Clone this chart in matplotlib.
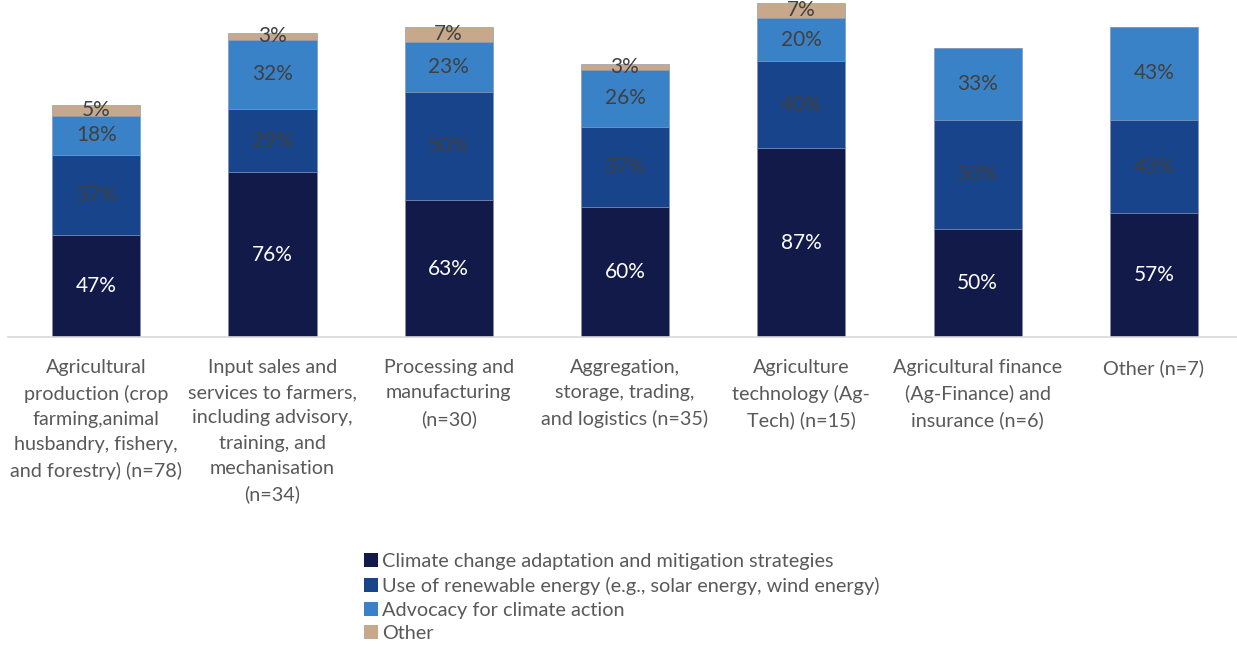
import matplotlib
matplotlib.use("Agg")
import matplotlib.pyplot as plt
from matplotlib.patches import Patch

plt.rcParams['font.family'] = ['Lato', 'DejaVu Sans']

categories = [
    "Agricultural\nproduction (crop\nfarming,animal\nhusbandry, fishery,\nand forestry) (n=78)",
    "Input sales and\nservices to farmers,\nincluding advisory,\ntraining, and\nmechanisation\n(n=34)",
    "Processing and\nmanufacturing\n(n=30)",
    "Aggregation,\nstorage, trading,\nand logistics (n=35)",
    "Agriculture\ntechnology (Ag-\nTech) (n=15)",
    "Agricultural finance\n(Ag-Finance) and\ninsurance (n=6)",
    "Other (n=7)",
]
series_names = [
    "Climate change adaptation and mitigation strategies",
    "Use of renewable energy (e.g., solar energy, wind energy)",
    "Advocacy for climate action",
    "Other",
]
climate = [47, 76, 63, 60, 87, 50, 57]
renewable = [37, 29, 50, 37, 40, 50, 43]
advocacy = [18, 32, 23, 26, 20, 33, 43]
other = [5, 3, 7, 3, 7, 0, 0]

colors = ["#121a4a", "#17448a", "#3a82c7", "#c8a88a"]
label_colors = ["white", "#404040", "#404040", "#404040"]

W, H = 1237, 646
fig = plt.figure(figsize=(W / 100, H / 100), dpi=100)
ymax = 154.5
px_per_unit = 2.17
ax_bottom = 337
ax_h = ymax * px_per_unit
ax = fig.add_axes([8 / W, 1 - ax_bottom / H, 1234 / W, ax_h / H])

x = list(range(len(categories)))
bottoms = [0] * len(categories)
for vals, col, lc in zip([climate, renewable, advocacy, other], colors, label_colors):
    ax.bar(x, vals, width=0.5, bottom=bottoms, color=col,
           edgecolor="#7f8fb0", linewidth=0.4, zorder=2)
    for xi, v, b in zip(x, vals, bottoms):
        if v > 0:
            ax.text(xi, b + v / 2, f"{v}%", ha="center", va="center",
                    color=lc, fontsize=15, zorder=3)
    bottoms = [b + v for b, v in zip(bottoms, vals)]

ax.set_xlim(-0.5, len(categories) - 0.5)
ax.set_ylim(0, ymax)
ax.set_yticks([])
ax.set_xticks(x)
ax.set_xticklabels(categories, fontsize=14.2, color="#595959", linespacing=1.58)
ax.tick_params(axis="x", length=0, pad=16)
for s in ["top", "right", "left"]:
    ax.spines[s].set_visible(False)
ax.spines["bottom"].set_color("#d9d9d9")
ax.spines["bottom"].set_linewidth(1.2)

handles = [Patch(facecolor=c, edgecolor="none") for c in colors]
leg = fig.legend(handles, series_names, loc="upper left",
                 bbox_to_anchor=(364 / W, 1 - 553 / H), frameon=False,
                 fontsize=14.3, labelcolor="#595959", handlelength=0.7,
                 handleheight=0.7, handletextpad=0.2, labelspacing=0.34,
                 borderaxespad=0, borderpad=0)

fig.savefig("out.png", dpi=100)
